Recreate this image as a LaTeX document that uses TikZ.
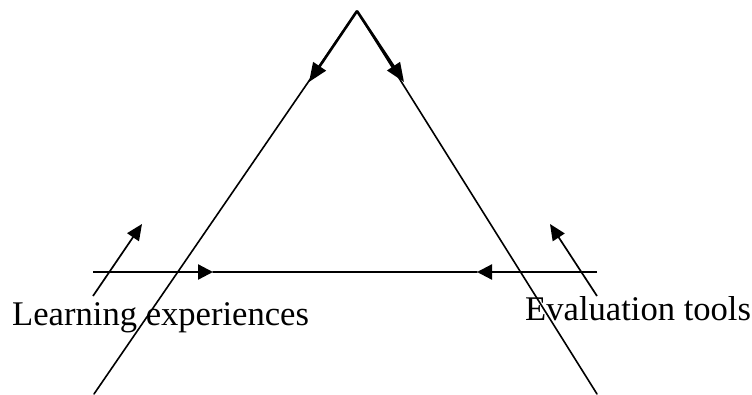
\documentclass[tikz,border=0pt]{standalone}
\usepackage{fontspec}
\setmainfont{Liberation Serif}
\usetikzlibrary{arrows.meta}
\tikzset{
  thinline/.style={line width=1.6pt, line cap=round},
  thickarrow/.style={line width=2.6pt, -{Triangle[length=19pt,width=15pt]}},
  harrow/.style={line width=2.3pt, -{Triangle[length=15pt,width=15pt]}},
  smallarrow/.style={line width=1.7pt, -{Triangle[length=16pt,width=14pt]}},
  label/.style={font=\fontsize{34.6}{40}\selectfont, inner sep=0pt, anchor=base west}
}
\begin{document}
\begin{tikzpicture}[x=1pt,y=-1pt]
\useasboundingbox (0,0) rectangle (752,394);
% points
\coordinate (apex) at (357,11);
\coordinate (lbot) at (94,394);
\coordinate (rbot) at (597,394);
\coordinate (ltip) at (309,82);
\coordinate (rtip) at (404,82);
\coordinate (hl) at (93,272);
\coordinate (hr) at (597,272);
\coordinate (hlt) at (213,272);
\coordinate (hrt) at (477,272);
\coordinate (sls) at (93,296);
\coordinate (slt) at (142,224);
\coordinate (srs) at (597,296);
\coordinate (srt) at (550,224);
% triangle sides
\draw[thinline] (apex) -- (lbot);
\draw[thinline] (apex) -- (rbot);
\draw[thickarrow] (apex) -- (ltip);
\draw[thickarrow] (apex) -- (rtip);
% base line
\draw[thinline] (hlt) -- (hrt);
\draw[harrow] (hl) -- (hlt);
\draw[harrow] (hr) -- (hrt);
% small arrows
\draw[smallarrow] (sls) -- (slt);
\draw[smallarrow] (srs) -- (srt);
% labels
\node[label] (learn) at (12,325) {Learning experiences};
\node[label] (eval) at (525,320) {Evaluation tools};
\end{tikzpicture}
\end{document}
